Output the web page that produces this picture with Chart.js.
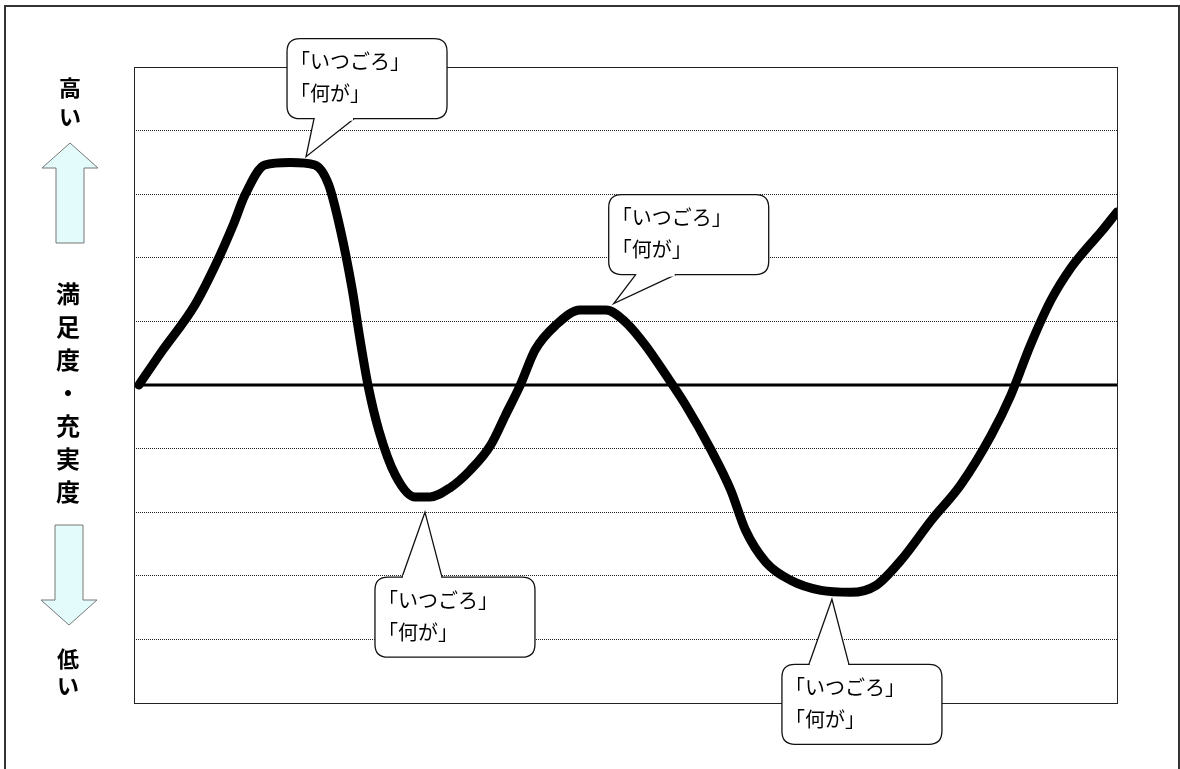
<!DOCTYPE html>
<html>
<head>
<meta charset="utf-8">
<title>満足度・充実度</title>
<style>
  html, body { margin: 0; padding: 0; background: #fff; }
</style>
</head>
<body>
<canvas id="chart" width="1180" height="769"></canvas>

<script src="https://cdn.jsdelivr.net/npm/chart.js@4.4.0/dist/chart.umd.min.js"></script>
<script>
// life timeline (0..100) and satisfaction level (-5..5)
var timePoints = [0.5, 2.7, 6.2, 8.3, 10.1, 11.3, 13.3, 15.9, 18.4, 19.8, 21.0, 22.2, 23.0, 23.8, 24.9, 26.6, 28.6, 30.1,
    32.2, 34.2, 36.3, 37.8, 39.3, 40.8, 42.9, 45.4, 48.0, 50.0, 52.0, 54.1, 56.1, 58.7, 60.7, 62.2, 64.3, 66.8,
    69.9, 72.9, 75.5, 78.0, 81.1, 84.1, 87.2, 89.2, 91.2, 93.3, 95.3, 96.8, 98.4, 100];
var levels = [0.0, 0.5, 1.26, 1.89, 2.52, 2.99, 3.46, 3.5, 3.46, 3.15, 2.44, 1.5, 0.71, 0.0, -0.71, -1.42, -1.76, -1.76,
    -1.61, -1.34, -0.94, -0.47, 0.0, 0.55, 0.94, 1.18, 1.18, 0.99, 0.63, 0.16, -0.31, -1.02, -1.65, -2.28, -2.79, -3.07,
    -3.23, -3.26, -3.15, -2.76, -2.13, -1.57, -0.79, -0.16, 0.63, 1.34, 1.84, 2.13, 2.41, 2.72];

// speech bubbles: where the tail points (data units) and which side the box sits on
var calloutX = [17.5, 29.6, 48.8, 71.0];
var calloutY = [3.59, -2.0, 1.28, -3.37];
var calloutSide = ['above', 'below', 'above', 'below'];
var calloutLines = ['「いつごろ」', '「何が」'];

var axisTop = ['高', 'い'];
var axisMiddle = ['満', '足', '度', '・', '充', '実', '度'];
var axisBottom = ['低', 'い'];

var pts = timePoints.map(function (t, i) { return { x: t, y: levels[i] }; });

function roundRect(ctx, x, y, w, h, r) {
    ctx.beginPath();
    ctx.moveTo(x + r, y);
    ctx.lineTo(x + w - r, y);
    ctx.quadraticCurveTo(x + w, y, x + w, y + r);
    ctx.lineTo(x + w, y + h - r);
    ctx.quadraticCurveTo(x + w, y + h, x + w - r, y + h);
    ctx.lineTo(x + r, y + h);
    ctx.quadraticCurveTo(x, y + h, x, y + h - r);
    ctx.lineTo(x, y + r);
    ctx.quadraticCurveTo(x, y, x + r, y);
    ctx.closePath();
}

function arrow(ctx, cx, top, bottom, up) {
    var sw = 14, hw = 28, hh = 25;
    ctx.beginPath();
    if (up) {
        ctx.moveTo(cx, top);
        ctx.lineTo(cx + hw, top + hh);
        ctx.lineTo(cx + sw, top + hh);
        ctx.lineTo(cx + sw, bottom);
        ctx.lineTo(cx - sw, bottom);
        ctx.lineTo(cx - sw, top + hh);
        ctx.lineTo(cx - hw, top + hh);
    } else {
        ctx.moveTo(cx, bottom);
        ctx.lineTo(cx + hw, bottom - hh);
        ctx.lineTo(cx + sw, bottom - hh);
        ctx.lineTo(cx + sw, top);
        ctx.lineTo(cx - sw, top);
        ctx.lineTo(cx - sw, bottom - hh);
        ctx.lineTo(cx - hw, bottom - hh);
    }
    ctx.closePath();
    ctx.fillStyle = '#e4fbfb';
    ctx.fill();
    ctx.strokeStyle = '#777';
    ctx.lineWidth = 1;
    ctx.stroke();
}

var frame = {
    id: 'frame',
    beforeDraw: function (chart) {
        var ctx = chart.ctx;
        ctx.save();
        ctx.fillStyle = '#fff';
        ctx.fillRect(0, 0, chart.width, chart.height);
        ctx.restore();
    },
    afterDraw: function (chart) {
        var ctx = chart.ctx, a = chart.chartArea;
        var xs = chart.scales.x, ys = chart.scales.y;
        ctx.save();

        // outer box
        ctx.strokeStyle = '#333';
        ctx.lineWidth = 2;
        ctx.strokeRect(5, 6, 1174, 800);

        // plot frame
        ctx.strokeStyle = '#222';
        ctx.lineWidth = 1;
        ctx.strokeRect(Math.round(a.left) + 0.5, Math.round(a.top) + 0.5,
            Math.round(a.right - a.left), Math.round(a.bottom - a.top));

        // left vertical labels + arrows
        ctx.textAlign = 'center';
        ctx.textBaseline = 'middle';
        ctx.fillStyle = '#000';
        ctx.font = 'bold 22px "Noto Sans CJK JP"';
        axisTop.forEach(function (c, i) { ctx.fillText(c, 70, 88 + i * 29); });
        arrow(ctx, 70, 143, 243, true);
        ctx.fillStyle = '#000';
        ctx.font = 'bold 24px "Noto Sans CJK JP"';
        axisMiddle.forEach(function (c, i) { ctx.fillText(c, 68, 294 + i * 33); });
        arrow(ctx, 69, 525, 625, false);
        ctx.fillStyle = '#000';
        ctx.font = 'bold 22px "Noto Sans CJK JP"';
        axisBottom.forEach(function (c, i) { ctx.fillText(c, 68, 659 + i * 27); });

        // speech bubbles
        var bw = 160, bh = 80;
        calloutX.forEach(function (v, i) {
            var tx = xs.getPixelForValue(v), ty = ys.getPixelForValue(calloutY[i]);
            var above = calloutSide[i] === 'above';
            var bx = above ? (i === 0 ? tx - 19 : tx - 5) : tx - 50;
            var by = above ? (i === 0 ? ty - 118 : ty - 109) : ty + 65;
            var baseY = above ? by + bh : by;
            var b1 = bx + 27, b2 = bx + 67;

            ctx.lineWidth = 1.3;
            ctx.strokeStyle = '#111';
            roundRect(ctx, bx, by, bw, bh, 13);
            ctx.fillStyle = '#fff';
            ctx.fill();
            ctx.stroke();

            ctx.beginPath();
            ctx.moveTo(b1, baseY);
            ctx.lineTo(tx, ty);
            ctx.lineTo(b2, baseY);
            ctx.closePath();
            ctx.fill();
            ctx.beginPath();
            ctx.moveTo(b1, baseY);
            ctx.lineTo(tx, ty);
            ctx.lineTo(b2, baseY);
            ctx.stroke();
            ctx.fillRect(b1 + 1, baseY - 2, b2 - b1 - 2, 4);

            ctx.fillStyle = '#000';
            ctx.textAlign = 'left';
            ctx.textBaseline = 'middle';
            ctx.font = '20px "Noto Sans CJK JP"';
            calloutLines.forEach(function (s, k) {
                ctx.fillText(s, bx + 3, by + 23 + k * 32);
            });
        });
        ctx.restore();
    }
};

new Chart(document.getElementById('chart').getContext('2d'), {
    type: 'line',
    data: {
        datasets: [{
            data: pts,
            borderColor: '#000',
            borderWidth: 9,
            pointRadius: 0,
            cubicInterpolationMode: 'monotone',
            borderCapStyle: 'round',
            borderJoinStyle: 'round',
            fill: false
        }, {
            data: [{ x: 0, y: 0 }, { x: 100, y: 0 }],
            borderColor: '#000',
            borderWidth: 3,
            pointRadius: 0,
            tension: 0,
            fill: false
        }]
    },
    options: {
        responsive: false,
        animation: false,
        layout: { padding: { left: 134, top: 67, right: 63, bottom: 58 } },
        plugins: { legend: { display: false }, tooltip: { enabled: false } },
        scales: {
            x: {
                type: 'linear', min: 0, max: 100,
                ticks: { display: false },
                grid: { display: false },
                border: { display: false }
            },
            y: {
                min: -5, max: 5,
                ticks: { display: false, stepSize: 1 },
                grid: {
                    drawTicks: false,
                    color: function (c) { return c.tick.value === 0 ? 'rgba(0,0,0,0)' : '#222'; },
                    lineWidth: 1
                },
                border: { display: false, dash: [1, 1] }
            }
        }
    },
    plugins: [frame]
});
</script>
</body>
</html>
